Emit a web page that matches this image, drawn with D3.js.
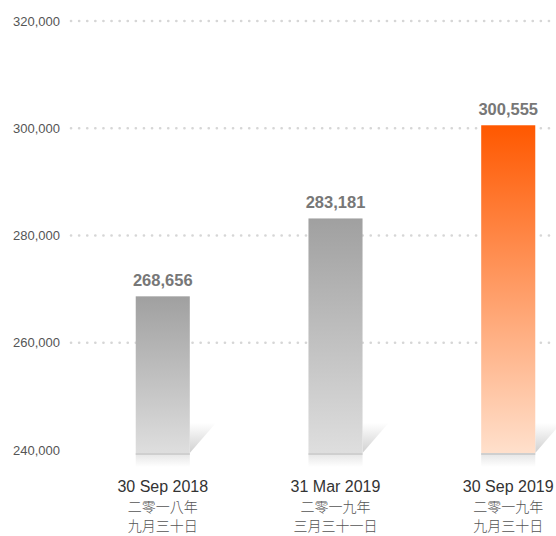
<!DOCTYPE html>
<html>
<head>
<meta charset="utf-8">
<script src="https://cdn.jsdelivr.net/npm/d3@7"></script>
<style>
  body { margin: 0; background: #fff; }
  svg { display: block; }
</style>
</head>
<body>
<script>
// data
var dates = ["30 Sep 2018", "31 Mar 2019", "30 Sep 2019"];
var datesZh1 = ["二零一八年", "二零一九年", "二零一九年"];
var datesZh2 = ["九月三十日", "三月三十一日", "九月三十日"];
var values = [268656, 283181, 300555];
var highlight = [false, false, true];
var yTicks = [240000, 260000, 280000, 300000, 320000];

var w = 556, h = 536;

var svg = d3.select("body").append("svg")
  .attr("width", w)
  .attr("height", h);

var y = d3.scaleLinear()
  .domain([240000, 320000])
  .range([450, 21]);

var x = d3.scaleBand()
  .domain(dates)
  .range([77, 594])
  .paddingInner(0.687)
  .paddingOuter(0.34);

var fmt = d3.format(",");

// gradients
var defs = svg.append("defs");
function grad(id, top, bottom) {
  var g = defs.append("linearGradient")
    .attr("id", id)
    .attr("x1", 0).attr("y1", 0).attr("x2", 0).attr("y2", 1);
  g.append("stop").attr("offset", "0%").attr("stop-color", top);
  g.append("stop").attr("offset", "100%").attr("stop-color", bottom);
}
grad("gGray", "#a0a0a0", "#dedede");
grad("gOrange", "#ff5800", "#ffe0cc");
grad("gShadow", "#ffffff", "#d0d0d0");
grad("gReflect", "#e4e4e4", "#ffffff");

// y axis gridlines + labels
var yAxis = svg.append("g");
yAxis.selectAll("line")
  .data(yTicks.filter(function(d) { return d > 240000; }))
  .enter()
  .append("line")
  .attr("x1", 71)
  .attr("x2", w)
  .attr("y1", function(d) { return y(d); })
  .attr("y2", function(d) { return y(d); })
  .style("stroke", "#d6d6d6")
  .style("stroke-width", 2.6)
  .style("stroke-linecap", "round")
  .style("stroke-dasharray", "0.1 8");

yAxis.selectAll("text")
  .data(yTicks)
  .enter()
  .append("text")
  .text(function(d) { return fmt(d); })
  .attr("x", 60)
  .attr("y", function(d) { return y(d) + 4.5; })
  .attr("text-anchor", "end")
  .style("font-family", "'Liberation Sans', Arial, sans-serif")
  .style("font-size", "13px")
  .style("fill", "#555");

var bars = svg.selectAll(".bar")
  .data(values)
  .enter()
  .append("g")
  .attr("class", "bar");

var base = y(240000) + 3;

// fold shadow to the right of each bar
bars.append("path")
  .attr("d", function(d, i) {
    var x1 = x(dates[i]) + x.bandwidth();
    return "M" + x1 + "," + base + " L" + (x1 + 26) + "," + (base - 30) + " L" + x1 + "," + (base - 30) + " Z";
  })
  .style("fill", "url(#gShadow)");

// reflection under bar
bars.append("rect")
  .attr("x", function(d, i) { return x(dates[i]); })
  .attr("y", base)
  .attr("width", x.bandwidth())
  .attr("height", 14)
  .style("fill", "url(#gReflect)");

bars.append("rect")
  .attr("x", function(d, i) { return x(dates[i]); })
  .attr("y", base)
  .attr("width", x.bandwidth())
  .attr("height", 2)
  .style("fill", "#cfcfcf");

bars.append("rect")
  .attr("x", function(d, i) { return x(dates[i]); })
  .attr("y", function(d) { return y(d); })
  .attr("width", x.bandwidth())
  .attr("height", function(d) { return base - y(d); })
  .style("fill", function(d, i) { return highlight[i] ? "url(#gOrange)" : "url(#gGray)"; });

// value labels
bars.append("text")
  .text(function(d) { return fmt(d); })
  .attr("x", function(d, i) { return x(dates[i]) + x.bandwidth() / 2; })
  .attr("y", function(d) { return y(d) - 10; })
  .attr("text-anchor", "middle")
  .style("font-family", "'Liberation Sans', Arial, sans-serif")
  .style("font-weight", "bold")
  .style("font-size", "16.5px")
  .style("fill", "#777");

// category labels
var cat = svg.selectAll(".cat")
  .data(dates)
  .enter()
  .append("g")
  .attr("class", "cat")
  .attr("transform", function(d) { return "translate(" + (x(d) + x.bandwidth() / 2) + ",0)"; });

cat.append("text")
  .text(function(d) { return d; })
  .attr("y", 492)
  .attr("text-anchor", "middle")
  .style("font-family", "'Liberation Sans', Arial, sans-serif")
  .style("font-size", "16px")
  .style("fill", "#333");

cat.append("text")
  .text(function(d, i) { return datesZh1[i]; })
  .attr("y", 512)
  .attr("text-anchor", "middle")
  .style("font-family", "'Noto Sans CJK TC', sans-serif")
  .style("font-weight", 300)
  .style("font-size", "14px")
  .style("fill", "#555");

cat.append("text")
  .text(function(d, i) { return datesZh2[i]; })
  .attr("y", 531)
  .attr("text-anchor", "middle")
  .style("font-family", "'Noto Sans CJK TC', sans-serif")
  .style("font-weight", 300)
  .style("font-size", "14px")
  .style("fill", "#555");
</script>
</body>
</html>
